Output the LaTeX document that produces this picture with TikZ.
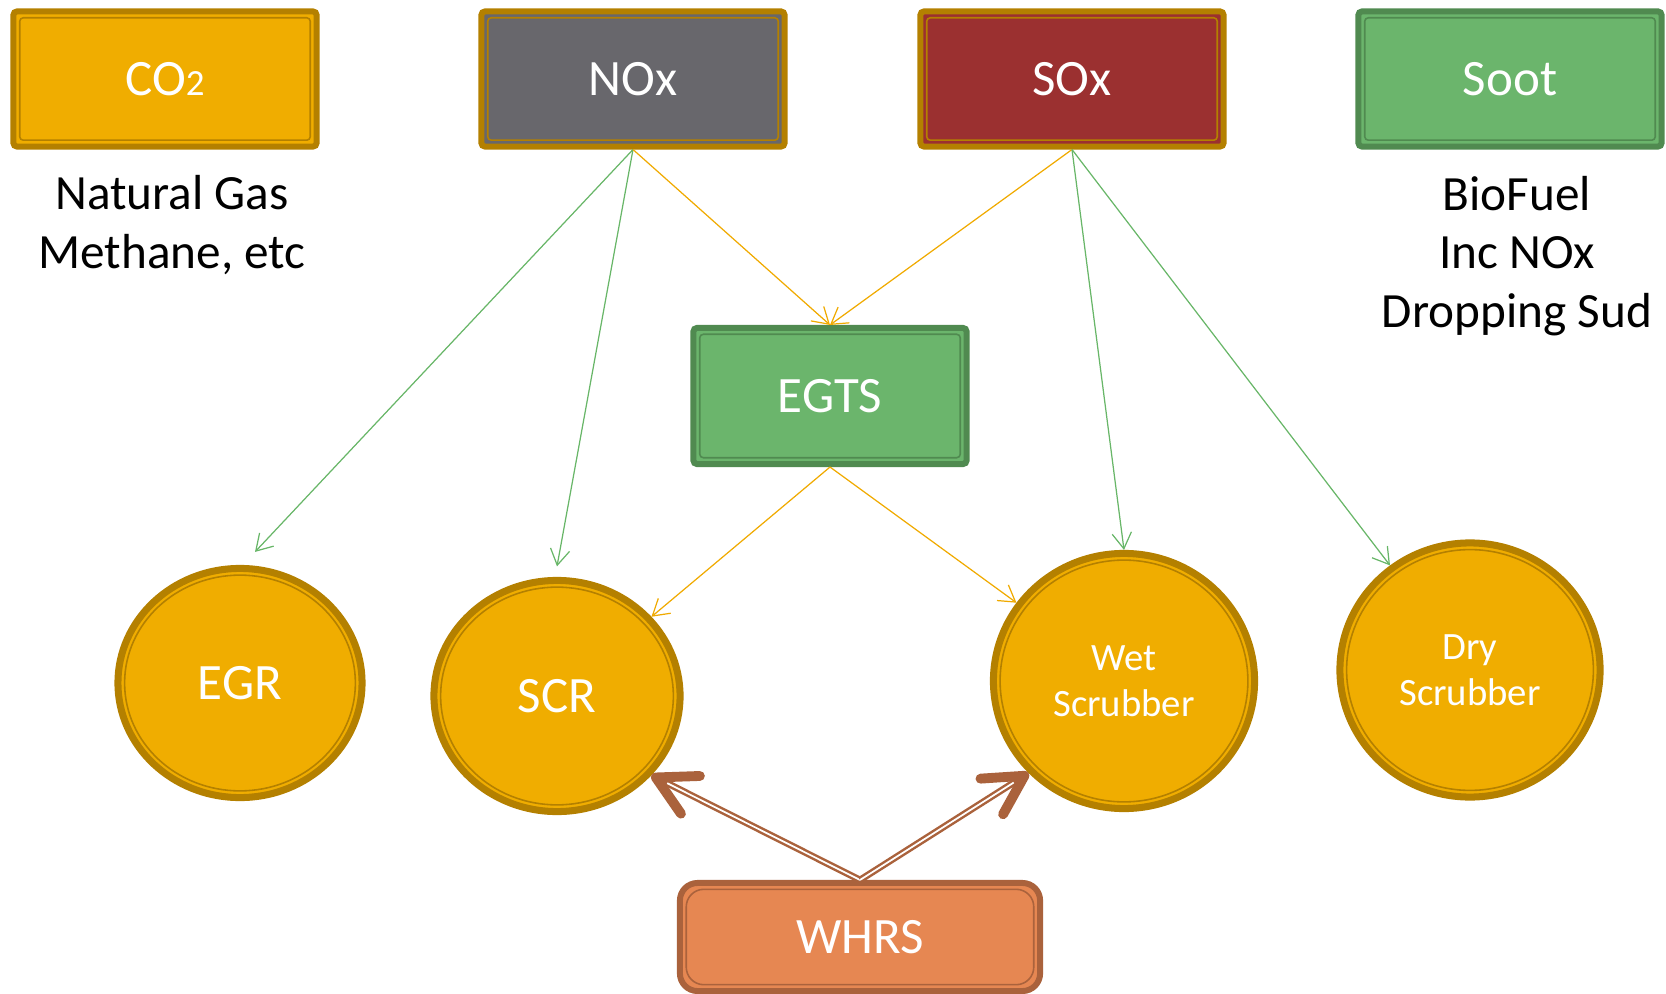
\documentclass[tikz,border=0pt]{standalone}
\usepackage{fontspec}
\setmainfont{Carlito}
\usetikzlibrary{arrows.meta,shapes.geometric}
\definecolor{gasgold}{RGB}{240,173,0}
\definecolor{ringgold}{RGB}{180,128,0}
\definecolor{noxgrey}{RGB}{104,103,108}
\definecolor{soxred}{RGB}{155,48,48}
\definecolor{sootgreen}{RGB}{107,181,108}
\definecolor{darkgreen}{RGB}{80,138,80}
\definecolor{whrsorange}{RGB}{230,135,82}
\definecolor{heatbrown}{RGB}{170,98,60}
\definecolor{linkgreen}{RGB}{104,182,104}
\definecolor{linkgold}{RGB}{240,170,0}
\newcommand{\boxfont}{\fontsize{14.5}{16}\selectfont}
\newcommand{\notefont}{\fontsize{14}{16.6}\selectfont}
\newcommand{\low}[1]{{\fontsize{10.5}{10}\selectfont #1}}
\tikzset{
  srcbox/.style 2 args={rectangle,rounded corners=1pt,draw=#1,line width=1.7pt,fill=#2,
    minimum width=3.03cm,minimum height=1.35cm,text=white,font=\boxfont,
    path picture={\draw[#1,line width=0.45pt]
      ([shift={(1.8pt,-1.8pt)}]path picture bounding box.north west) rectangle
      ([shift={(-1.8pt,1.8pt)}]path picture bounding box.south east);}},
  ring/.style 2 args={ellipse,draw=ringgold,line width=2pt,fill=gasgold,inner sep=0pt,
    minimum width=#1cm,minimum height=#2cm,text=white,align=center,
    path picture={\draw[ringgold,line width=0.45pt] (path picture bounding box.center)
      ellipse [x radius=#1cm/2-1.9pt,y radius=#2cm/2-1.9pt];}},
  note/.style={align=center,font=\notefont,text=black},
  link/.style={draw=#1,line width=0.35pt,-{Straight Barb[length=4.5pt,width=5.5pt]}},
  heat/.style={draw=heatbrown,line width=1.9pt,
    -{Straight Barb[length=11pt,width=12pt,line width=2.8pt 0,round]},
    postaction={draw=white,line width=0.5pt,-,shorten >=5pt}}
}
\begin{document}
\begin{tikzpicture}[x=0.01cm,y=-0.01cm]
  \useasboundingbox (0,0) rectangle (1666,994);
  % emissions
  \node[srcbox={ringgold}{gasgold}] (co2) at (165,79) {CO\low{2}};
  \node[srcbox={ringgold}{noxgrey}] (nox) at (633,79) {NOx};
  \node[srcbox={ringgold}{soxred}] (sox) at (1072,79) {SOx};
  \node[srcbox={darkgreen}{sootgreen}] (soot) at (1510,79) {Soot};
  \node[note] (gas) at (172,225) {Natural Gas\\Methane, etc};
  \node[note] (bio) at (1517,256) {BioFuel\\Inc NOx\\Dropping Sud};
  % abatement
  \node[srcbox={darkgreen}{sootgreen},minimum width=2.73cm,minimum height=1.36cm] (egts) at (830,396) {EGTS};
  \node[ring={2.44}{2.29},font=\boxfont] (egr) at (240,683) {EGR};
  \node[ring={2.46}{2.31},font=\boxfont] (scr) at (557,696) {SCR};
  \node[ring={2.61}{2.55},font=\fontsize{11}{13}\selectfont] (wet) at (1124,681) {Wet\\Scrubber};
  \node[ring={2.60}{2.54},font=\fontsize{11}{13}\selectfont] (dry) at (1470,670) {Dry\\Scrubber};
  \node[srcbox={heatbrown}{whrsorange},rounded corners=5pt,minimum width=3.60cm,minimum height=1.08cm] (whrs) at (860,937) {WHRS};
  % links
  \draw[link=linkgreen] (nox.south) -- ([shift={(15,-13)}]egr.north);
  \draw[link=linkgreen] (nox.south) -- ([yshift=3pt]scr.north);
  \draw[link=linkgold] (nox.south) -- (egts.north);
  \draw[link=linkgold] (sox.south) -- (egts.north);
  \draw[link=linkgreen] (sox.south) -- (wet.north);
  \draw[link=linkgreen] (sox.south) -- (dry);
  \draw[link=linkgold] (egts.south) -- (scr);
  \draw[link=linkgold] (egts.south) -- (wet);
  \draw[heat] (whrs.north) -- (scr.-40);
  \draw[heat] (whrs.north) -- (wet.-136);
\end{tikzpicture}
\end{document}
